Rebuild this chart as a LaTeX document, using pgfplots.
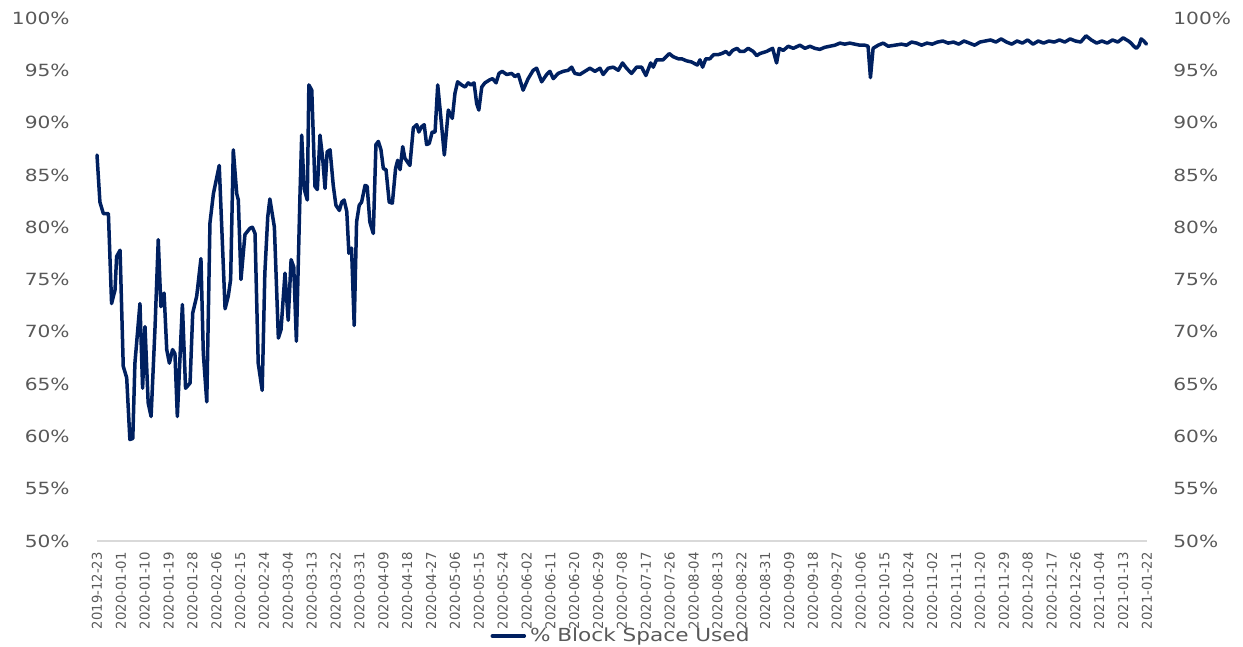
\documentclass[border=0pt]{standalone}
\usepackage{pgfplots}
\pgfplotsset{compat=1.18}
\usepackage{fontspec}
\setmainfont{DejaVu Sans}
\newfontfamily\ylab[FakeStretch=1.2]{DejaVu Sans}
\newfontfamily\xlab[FakeStretch=0.97]{DejaVu Sans}
\definecolor{navy}{HTML}{002060}
\definecolor{lab}{HTML}{595959}
\definecolor{axl}{HTML}{D9D9D9}
\begin{document}
\begin{tikzpicture}
\useasboundingbox (-48.5pt,-53pt) rectangle (573pt,270.5pt);
\begin{axis}[
  at={(0,0)}, anchor=south west,
  scale only axis, width=525pt, height=261.5pt,
  xmin=0, xmax=396, ymin=50, ymax=100,
  axis x line*=bottom, axis y line*=left,
  x axis line style={-, draw=axl, line width=0.6pt},
  y axis line style={draw=none},
  major tick length=0pt,
  xtick={0,9,...,396},
  xticklabels={2019-12-23,2020-01-01,2020-01-10,2020-01-19,2020-01-28,2020-02-06,2020-02-15,2020-02-24,2020-03-04,2020-03-13,2020-03-22,2020-03-31,2020-04-09,2020-04-18,2020-04-27,2020-05-06,2020-05-15,2020-05-24,2020-06-02,2020-06-11,2020-06-20,2020-06-29,2020-07-08,2020-07-17,2020-07-26,2020-08-04,2020-08-13,2020-08-22,2020-08-31,2020-09-09,2020-09-18,2020-09-27,2020-10-06,2020-10-15,2020-10-24,2020-11-02,2020-11-11,2020-11-20,2020-11-29,2020-12-08,2020-12-17,2020-12-26,2021-01-04,2021-01-13,2021-01-22},
  xticklabel style={yshift=-5.5pt, rotate=90, anchor=east, inner sep=0pt, font=\xlab\fontsize{6.8pt}{8pt}\selectfont, text=lab},
  ytick={50,55,...,100},
  yticklabels={50\%,55\%,60\%,65\%,70\%,75\%,80\%,85\%,90\%,95\%,100\%},
  yticklabel style={anchor=east, inner sep=0pt, xshift=-13.5pt, font=\ylab\fontsize{8.4pt}{10pt}\selectfont, text=lab},
  legend style={at={(0.5,-0.1816)}, anchor=center, draw=none, fill=none,
    font=\ylab\fontsize{9pt}{10pt}\selectfont, text=lab, inner sep=0pt,
    /tikz/every even column/.append style={column sep=0pt}},
  legend image code/.code={\draw[#1] (0pt,0pt) -- (16pt,0pt);},
  clip=false,
]
\addplot[navy, line width=1.75pt, line join=round, line cap=round] table {
x y
0 86.9
1.1 82.4
2.4 81.3
4.3 81.3
5.5 72.7
6.8 74.0
7.4 77.2
8.7 77.8
9.9 66.7
11.2 65.6
12.4 59.7
13.5 59.8
14.3 67.0
16.2 72.7
17.2 64.6
18.1 70.5
19.3 63.2
20.4 61.9
21.9 70.5
23.1 78.8
24.1 72.4
25.3 73.7
26.3 68.3
27.3 67.0
28.5 68.3
29.4 67.9
30.3 61.9
32.2 72.6
33.4 64.6
35.1 65.1
36.1 71.8
37.6 73.4
39.2 77.0
40.1 67.9
41.4 63.3
42.6 80.4
43.9 83.2
46.1 85.9
48.3 72.2
49.5 73.4
50.4 75.0
51.4 87.4
52.7 83.2
53.3 82.6
54.3 75.0
55.8 79.3
57.7 79.9
58.6 80.0
59.6 79.4
60.8 67.0
62.3 64.4
63.3 75.6
64.4 81.0
65.2 82.7
66.9 80.0
68.4 69.4
69.4 70.2
70.9 75.6
72.1 71.1
73.2 76.9
74.2 76.2
75.2 69.1
76.5 82.6
77.2 88.8
78.1 83.7
79.3 82.6
79.9 93.6
81.0 93.1
82.2 83.9
83.1 83.6
84.1 88.8
85.1 86.6
86.0 83.7
86.8 87.2
87.9 87.4
89.1 84.0
90.1 82.1
91.4 81.6
92.3 82.4
93.2 82.6
94.2 81.5
95.0 77.5
96.0 78.0
97.0 70.6
97.9 80.5
98.9 82.1
99.8 82.4
101.1 84.0
101.9 83.9
102.9 80.5
104.2 79.4
105.2 87.9
106.1 88.2
107.1 87.4
108.0 85.6
109.0 85.5
110.2 82.4
111.4 82.3
112.6 85.6
113.4 86.4
114.3 85.5
115.3 87.7
116.1 86.6
118.0 85.9
119.3 89.5
120.6 89.8
121.4 89.1
122.4 89.6
123.4 89.8
124.3 87.9
125.3 88.0
126.4 89.1
127.5 89.1
128.5 93.6
129.3 91.5
131.0 86.9
132.5 91.2
134.0 90.4
135.0 92.8
136.0 93.9
137.5 93.6
138.8 93.4
140.0 93.8
141.0 93.6
142.2 93.8
143.2 91.8
144.0 91.2
145.1 93.4
146.3 93.8
148.2 94.1
149.2 94.2
150.5 93.8
151.6 94.7
152.8 94.9
154.5 94.6
156.4 94.7
157.6 94.4
158.9 94.6
160.7 93.1
162.6 94.2
164.5 95.0
165.8 95.2
167.7 93.9
169.6 94.6
170.8 94.9
172.1 94.2
173.9 94.7
175.8 94.9
177.7 95.0
179.0 95.3
180.2 94.7
182.1 94.6
184.0 94.9
185.9 95.2
187.8 94.9
189.7 95.2
190.9 94.6
192.8 95.2
194.7 95.3
196.6 95.0
198.2 95.7
199.7 95.2
201.6 94.7
203.5 95.3
205.4 95.3
207.0 94.5
208.8 95.7
209.8 95.3
211.0 96.0
213.5 96.0
215.8 96.6
217.3 96.3
219.2 96.1
220.5 96.1
222.4 95.9
224.2 95.8
226.4 95.5
227.4 96.0
228.4 95.3
229.6 96.1
231.1 96.1
232.6 96.5
234.3 96.5
235.6 96.6
237.2 96.8
238.4 96.5
239.7 96.9
241.4 97.1
242.5 96.8
244.0 96.8
245.6 97.1
247.5 96.8
248.8 96.4
250.0 96.6
252.5 96.8
254.8 97.1
256.3 95.7
257.3 97.1
258.8 96.9
260.7 97.3
262.6 97.1
265.1 97.4
267.0 97.1
268.9 97.3
270.7 97.1
272.6 97.0
274.5 97.2
276.4 97.3
278.3 97.4
280.2 97.6
282.0 97.5
283.9 97.6
285.8 97.5
287.7 97.4
289.6 97.4
290.8 97.3
291.7 94.3
292.7 97.1
294.6 97.4
296.5 97.6
298.4 97.3
300.9 97.4
303.4 97.5
305.3 97.4
307.2 97.7
309.1 97.6
311 97.4
313 97.6
315 97.5
317 97.7
319 97.8
321 97.6
323 97.7
325 97.5
327 97.8
329 97.6
331 97.4
333 97.7
335 97.8
337 97.9
339 97.7
341 98.0
343 97.7
345 97.5
347 97.8
349 97.6
351 97.9
353 97.5
355 97.8
357 97.6
359 97.8
361 97.7
363 97.9
365 97.7
367 98.0
369 97.8
371 97.7
373 98.3
375 97.9
377 97.6
379 97.8
381 97.6
383 97.9
385 97.7
387 98.1
389 97.8
390 97.6
391 97.3
392 97.1
393 97.4
393.8 98.0
394.8 97.8
395.8 97.5
};
\addlegendentry{\% Block Space Used}
\end{axis}
\begin{axis}[
  at={(0,0)}, anchor=south west,
  scale only axis, width=525pt, height=261.5pt,
  xmin=0, xmax=396, ymin=50, ymax=100,
  hide x axis,
  axis y line*=right,
  y axis line style={draw=none},
  major tick length=0pt,
  ytick={50,55,...,100},
  yticklabels={50\%,55\%,60\%,65\%,70\%,75\%,80\%,85\%,90\%,95\%,100\%},
  yticklabel style={anchor=west, inner sep=0pt, xshift=13pt, font=\ylab\fontsize{8.4pt}{10pt}\selectfont, text=lab},
]
\end{axis}
\end{tikzpicture}
\end{document}
